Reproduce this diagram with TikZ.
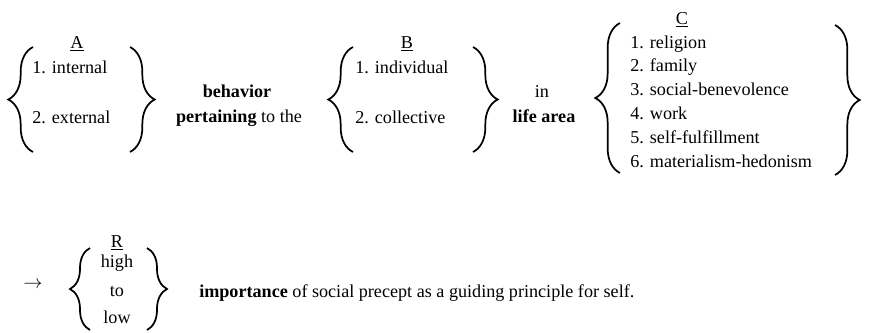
\documentclass[tikz,border=0pt]{standalone}
\usepackage{fontspec}
\setmainfont{Liberation Serif}
\usetikzlibrary{decorations.pathreplacing}

\begin{document}
\begin{tikzpicture}[x=0.75pt,y=-0.75pt,
  every node/.style={inner sep=0pt,font=\fontsize{13.6}{16}\selectfont},
  brace/.style={decorate,decoration={brace,amplitude=18.5pt},line width=1.3pt},
  lowbrace/.style={decorate,decoration={brace,amplitude=15pt},line width=1.3pt}]
\useasboundingbox (0,0) rectangle (881,332);

% block A
\node[anchor=base] (A) at (77,48) {\underline{A}};
\node[anchor=base west] (A1) at (32,73) {1. internal};
\node[anchor=base west] (A2) at (32,123) {2. external};
\coordinate (Alt) at (33,47);
\coordinate (Alb) at (33,152);
\coordinate (Art) at (130,47);
\coordinate (Arb) at (130,152);

\node[anchor=base] (behav) at (237,97) {\textbf{behavior}};
\node[anchor=base] (pert) at (239,122) {\textbf{pertaining} to the};

% block B
\node[anchor=base] (B) at (407,48) {\underline{B}};
\node[anchor=base west] (B1) at (355,73) {1. individual};
\node[anchor=base west] (B2) at (355,123) {2. collective};
\coordinate (Blt) at (353,47);
\coordinate (Blb) at (353,152);
\coordinate (Brt) at (473,47);
\coordinate (Brb) at (473,152);

\node[anchor=base] (in) at (542,97) {in};
\node[anchor=base] (life) at (544,122) {\textbf{life area}};

% block C
\node[anchor=base] (C) at (682,24) {\underline{C}};
\foreach \i/\t in {1/religion,2/family,3/social-benevolence,4/work,5/self-fulfillment,6/materialism-hedonism}
  \node[anchor=base west] (C\i) at (630,{48+23.8*(\i-1)}) {\i. \t};
\coordinate (Clt) at (620,23);
\coordinate (Clb) at (620,173);
\coordinate (Crt) at (835,25);
\coordinate (Crb) at (835,175);

% block R
\node[anchor=base] (arrow) at (33,288) {$\rightarrow$};
\node[anchor=base] (R) at (117,247) {\underline{R}};
\node[anchor=base] (R1) at (117,267) {high};
\node[anchor=base] (R2) at (117,296) {to};
\node[anchor=base] (R3) at (117,323) {low};
\coordinate (Rlt) at (90,248);
\coordinate (Rlb) at (90,330);
\coordinate (Rrt) at (147,248);
\coordinate (Rrb) at (147,330);

\node[anchor=base west] (imp) at (199,297) {\textbf{importance} of social precept as a guiding principle for self.};

\draw[brace] (Alb) -- (Alt);
\draw[brace] (Art) -- (Arb);
\draw[brace] (Blb) -- (Blt);
\draw[brace] (Brt) -- (Brb);
\draw[brace] (Clb) -- (Clt);
\draw[brace] (Crt) -- (Crb);
\draw[lowbrace] (Rlb) -- (Rlt);
\draw[lowbrace] (Rrt) -- (Rrb);
\end{tikzpicture}
\end{document}
